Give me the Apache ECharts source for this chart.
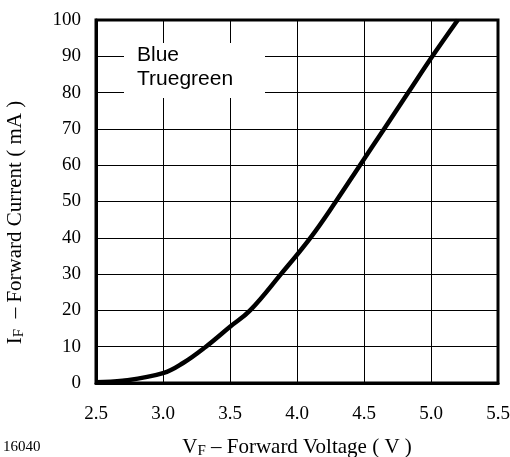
<!DOCTYPE html>
<html>
<head>
<meta charset="utf-8">
<script src="https://cdn.jsdelivr.net/npm/echarts@6/dist/echarts.min.js"></script>
<style>html,body{margin:0;padding:0;background:#fff;}#c{width:510px;height:457px;}</style>
</head>
<body>
<div id="c"></div>
<script>
var voltage = [2.5, 2.7, 3.0, 3.15, 3.32, 3.5, 3.65, 3.88, 4.1, 4.29, 4.47, 4.65, 4.83, 5.01, 5.2];
var current = [0.2, 0.6, 2.7, 5.5, 10, 15.5, 20, 30, 40, 50, 60, 70, 80, 90, 100];
var legendLines = ['Blue', 'Truegreen'];
var figureId = '16040';

var chart = echarts.init(document.getElementById('c'), null, {renderer: 'canvas'});
var serif = '"Liberation Serif", "Times New Roman", serif';
var sans = '"Liberation Sans", Arial, sans-serif';
var titleRich = {
  m: {fontFamily: serif, fontSize: 21, color: '#000'},
  s: {fontFamily: serif, fontSize: 15, color: '#000', verticalAlign: 'bottom', padding: [9, 0, 0, 0]}
};
chart.setOption({
  animation: false,
  backgroundColor: '#fff',
  grid: {left: 96, right: 12, top: 20, bottom: 74, containLabel: false, outerBoundsMode: 'none', show: true, borderColor: '#000', borderWidth: 3, backgroundColor: 'transparent'},
  xAxis: {
    type: 'value', min: 2.5, max: 5.5, interval: 0.5,
    axisLine: {show: true, lineStyle: {color: '#000', width: 3}},
    axisTick: {show: false},
    splitLine: {show: true, lineStyle: {color: '#000', width: 1}},
    axisLabel: {color: '#000', fontFamily: serif, fontSize: 19, margin: 22, formatter: function(v){return v.toFixed(1);}},
    name: '{m|V}{s|F}{m| – Forward Voltage ( V )}',
    nameLocation: 'middle', nameGap: 52,
    nameTextStyle: {rich: titleRich}
  },
  yAxis: {
    type: 'value', min: 0, max: 100, interval: 10,
    axisLine: {show: true, lineStyle: {color: '#000', width: 3}},
    axisTick: {show: false},
    splitLine: {show: true, lineStyle: {color: '#000', width: 1}},
    axisLabel: {color: '#000', fontFamily: serif, fontSize: 19, margin: 15},
    name: '{m|I}{s|F}{m|  – Forward Current ( mA )}',
    nameLocation: 'middle', nameGap: 69,
    nameTextStyle: {rich: titleRich, padding: [0, 42, 0, 0]}
  },
  series: [{
    type: 'line', smooth: 0.4, symbol: 'none',
    data: voltage.map(function(v, i){return [v, current[i]];}),
    lineStyle: {color: '#000', width: 4.5}, z: 5
  }],
  graphic: [
    {type: 'rect', left: 124, top: 43, shape: {width: 141, height: 55}, style: {fill: '#fff'}, z: 100},
    {type: 'text', left: 137, top: 43, z: 101, style: {text: legendLines.join('\n'), font: '21px ' + sans, fill: '#000', lineHeight: 24}},
    {type: 'text', left: 3, top: 440, z: 101, style: {text: figureId, font: '15px ' + serif, fill: '#000'}}
  ]
});
</script>
</body>
</html>
